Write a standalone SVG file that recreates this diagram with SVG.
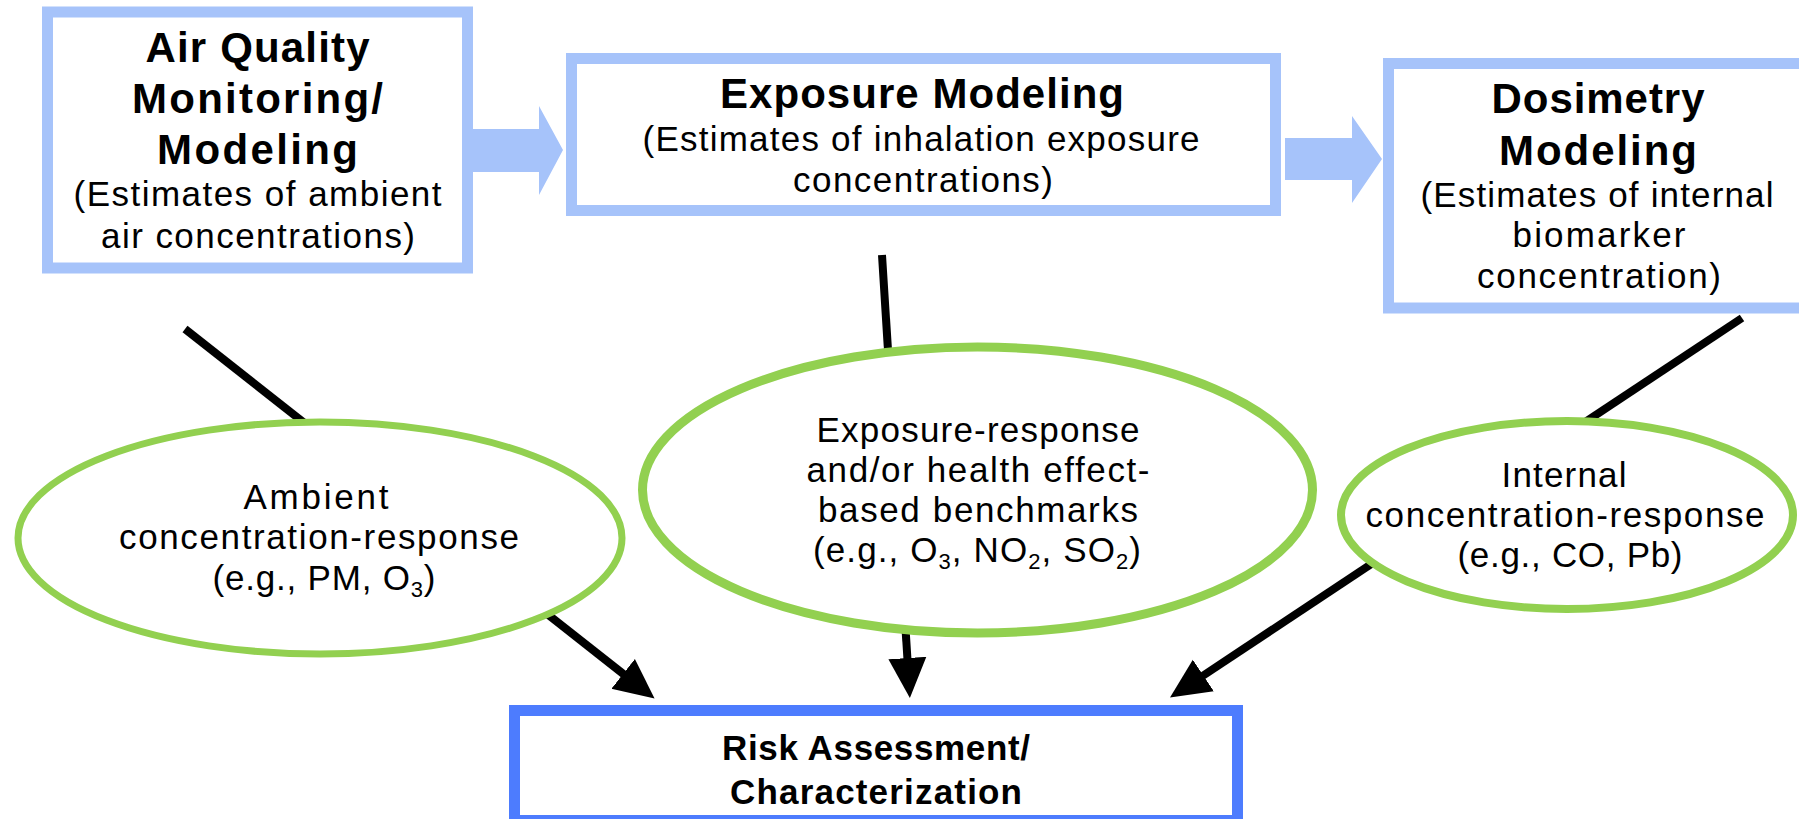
<svg xmlns="http://www.w3.org/2000/svg" width="1799" height="819" viewBox="0 0 1799 819">
<style>
.box{fill:#fff;stroke:#a6c3fa;stroke-width:11}
.final{fill:#fff;stroke:#4d7cfe;stroke-width:11}
.ell{fill:#fff;stroke:#92d050}
.blk{fill:#a6c3fa}
.con{stroke:#000;stroke-width:8;fill:none;marker-end:url(#ah)}
.h{font-family:"Liberation Sans",Arial,sans-serif;font-weight:700;font-size:42px;text-anchor:middle;fill:#000}
.h2{font-family:"Liberation Sans",Arial,sans-serif;font-weight:700;font-size:35px;text-anchor:middle;fill:#000}
.t{font-family:"Liberation Sans",Arial,sans-serif;font-size:35px;text-anchor:middle;fill:#000}
.sub{font-size:22px}
</style>
<defs>
<marker id="ah" markerUnits="userSpaceOnUse" markerWidth="40" markerHeight="40" viewBox="0 0 40 40" refX="10" refY="20" orient="auto">
<path d="M0,1 L40,20 L0,39 z" fill="#000"/>
</marker>
</defs>
<rect width="1799" height="819" fill="#fff"/>
<g id="connectors">
<line class="con" x1="185" y1="329" x2="631" y2="680"/>
<line class="con" x1="882" y1="255" x2="908" y2="668"/>
<line class="con" x1="1742" y1="318" x2="1195" y2="681"/>
<polygon class="blk" points="473,129 539,129 539,106 563,150 539,195 539,172 473,172"/>
<polygon class="blk" points="1285,138 1352,138 1352,116 1382,159 1352,203 1352,180 1285,180"/>
</g>
<g id="air-quality">
<rect class="box" x="47.5" y="12" width="420" height="256"/>
<text class="h" x="257.5" y="62" textLength="224">Air Quality</text>
<text class="h" x="257.5" y="113" textLength="251">Monitoring/</text>
<text class="h" x="257.5" y="164" textLength="201">Modeling</text>
<text class="t" x="257.5" y="206" textLength="368">(Estimates of ambient</text>
<text class="t" x="258" y="248" textLength="314">air concentrations)</text>
</g>
<g id="exposure-modeling">
<rect class="box" x="571.5" y="58.5" width="704" height="152"/>
<text class="h" x="922" y="108" textLength="404">Exposure Modeling</text>
<text class="t" x="921" y="151" textLength="557">(Estimates of inhalation exposure</text>
<text class="t" x="923" y="192" textLength="260">concentrations)</text>
</g>
<g id="dosimetry-modeling">
<rect class="box" x="1388.5" y="63.5" width="430" height="244.5"/>
<text class="h" x="1598" y="113" textLength="213">Dosimetry</text>
<text class="h" x="1598" y="165" textLength="198">Modeling</text>
<text class="t" x="1597" y="207" textLength="353">(Estimates of internal</text>
<text class="t" x="1599" y="247" textLength="173">biomarker</text>
<text class="t" x="1599" y="288" textLength="244">concentration)</text>
</g>
<g id="ambient-cr">
<ellipse class="ell" cx="320" cy="538" rx="302" ry="116" stroke-width="7"/>
<text class="t" x="316" y="509" textLength="145">Ambient</text>
<text class="t" x="319" y="549" textLength="400">concentration-response</text>
<text class="t" x="324" y="590" textLength="223">(e.g., PM, O<tspan class="sub" dy="7">3</tspan><tspan dy="-7">)</tspan></text>
</g>
<g id="exposure-response">
<ellipse class="ell" cx="977.5" cy="490" rx="335" ry="143" stroke-width="9"/>
<text class="t" x="978" y="442" textLength="323">Exposure-response</text>
<text class="t" x="978" y="482" textLength="343">and/or health effect-</text>
<text class="t" x="978" y="522" textLength="320">based benchmarks</text>
<text class="t" x="977" y="562" textLength="328">(e.g., O<tspan class="sub" dy="7">3</tspan><tspan dy="-7">, NO</tspan><tspan class="sub" dy="7">2</tspan><tspan dy="-7">, SO</tspan><tspan class="sub" dy="7">2</tspan><tspan dy="-7">)</tspan></text>
</g>
<g id="internal-cr">
<ellipse class="ell" cx="1567" cy="515" rx="226" ry="94" stroke-width="8"/>
<text class="t" x="1564" y="487" textLength="125">Internal</text>
<text class="t" x="1565" y="527" textLength="399">concentration-response</text>
<text class="t" x="1570" y="567" textLength="225">(e.g., CO, Pb)</text>
</g>
<g id="risk-assessment">
<rect class="final" x="514.5" y="710.5" width="723" height="110"/>
<text class="h2" x="876" y="760" textLength="308">Risk Assessment/</text>
<text class="h2" x="876" y="804" textLength="292">Characterization</text>
</g>
</svg>
